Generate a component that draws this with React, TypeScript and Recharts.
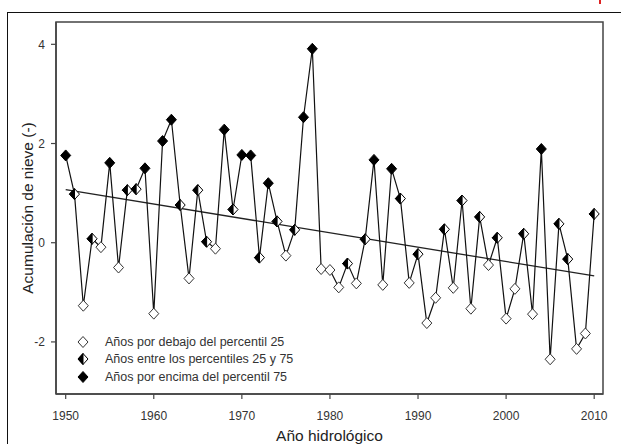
import React from 'react';
import { LineChart, Line, XAxis, YAxis, ReferenceLine, ReferenceArea, Label } from 'recharts';

const years = [
  1950, 1951, 1952, 1953, 1954, 1955, 1956, 1957, 1958, 1959,
  1960, 1961, 1962, 1963, 1964, 1965, 1966, 1967, 1968, 1969,
  1970, 1971, 1972, 1973, 1974, 1975, 1976, 1977, 1978, 1979,
  1980, 1981, 1982, 1983, 1984, 1985, 1986, 1987, 1988, 1989,
  1990, 1991, 1992, 1993, 1994, 1995, 1996, 1997, 1998, 1999,
  2000, 2001, 2002, 2003, 2004, 2005, 2006, 2007, 2008, 2009, 2010,
];

const values = [
  1.76, 0.98, -1.27, 0.08, -0.09, 1.61, -0.5, 1.06, 1.08, 1.5,
  -1.43, 2.05, 2.48, 0.76, -0.72, 1.06, 0.02, -0.12, 2.28, 0.67,
  1.77, 1.76, -0.3, 1.2, 0.43, -0.26, 0.26, 2.53, 3.91, -0.53,
  -0.55, -0.9, -0.42, -0.82, 0.07, 1.67, -0.85, 1.49, 0.89, -0.81,
  -0.23, -1.62, -1.11, 0.27, -0.91, 0.85, -1.33, 0.52, -0.45, 0.1,
  -1.53, -0.93, 0.18, -1.44, 1.89, -2.35, 0.38, -0.33, -2.14, -1.83, 0.58,
];

// b = below 25th percentile, m = between 25 and 75, a = above 75th
const classes = [
  'a', 'm', 'b', 'm', 'b', 'a', 'b', 'm', 'm', 'a',
  'b', 'a', 'a', 'm', 'b', 'm', 'm', 'b', 'a', 'm',
  'a', 'a', 'm', 'a', 'm', 'b', 'm', 'a', 'a', 'b',
  'b', 'b', 'm', 'b', 'm', 'a', 'b', 'a', 'm', 'b',
  'm', 'b', 'b', 'm', 'b', 'm', 'b', 'm', 'b', 'm',
  'b', 'b', 'm', 'b', 'a', 'b', 'm', 'm', 'b', 'b', 'm',
];

const legendLabels = [
  'Años por debajo del percentil 25',
  'Años entre los percentiles 25 y 75',
  'Años por encima del percentil 75',
];
const legendClasses = ['b', 'm', 'a'];

const trendStart = { x: 1950, y: 1.07 };
const trendEnd = { x: 2010, y: -0.67 };

const xTicks = [1950, 1960, 1970, 1980, 1990, 2000, 2010];
const yTicks = [-2, 0, 2, 4];
const xDomain = [1948.9, 2011];
const yDomain = [-3.05, 4.45];

const data = years.map((y, i) => ({ year: y, v: values[i], cls: classes[i] }));

const W = 5;
const H = 5.5;

function Diamond({ cx, cy, cls }: { cx: number; cy: number; cls: string }) {
  const pts = `${cx},${cy - H} ${cx + W},${cy} ${cx},${cy + H} ${cx - W},${cy}`;
  if (cls === 'a') {
    return <polygon points={pts} fill="#000" stroke="#000" strokeWidth={1} />;
  }
  if (cls === 'm') {
    const half = `${cx},${cy - H} ${cx},${cy + H} ${cx - W},${cy}`;
    return (
      <g>
        <polygon points={pts} fill="#fff" stroke="#000" strokeWidth={1} />
        <polygon points={half} fill="#000" stroke="#000" strokeWidth={1} />
      </g>
    );
  }
  return <polygon points={pts} fill="#fff" stroke="#333" strokeWidth={1} />;
}

const renderDot = (props: any) => {
  const { cx, cy, payload, index } = props;
  return (
    <g key={`d-${index}`}>
      <Diamond cx={cx} cy={cy} cls={payload.cls} />
    </g>
  );
};

const font = 'Arial, "Liberation Sans", sans-serif';
const tickStyle = { fontFamily: font, fontSize: 12, fill: '#333' };
const frame = '#444';

export default function App() {
  return (
    <div style={{ position: 'fixed', left: 0, top: 0, width: 621, height: 444, background: '#fff' }}>
      <div style={{ position: 'absolute', left: 7, top: 12, width: 614, height: 432, borderTop: '1.5px solid #111', borderLeft: '1.5px solid #111', boxSizing: 'border-box' }} />
      <div style={{ position: 'absolute', left: 599, top: 0, width: 2, height: 4, background: '#d22' }} />
      <LineChart width={621} height={444} data={data} margin={{ top: 22, right: 18, bottom: 0, left: 0 }} style={{ position: 'absolute', left: 0, top: 0 }}>
        <XAxis
          dataKey="year"
          type="number"
          domain={xDomain}
          ticks={xTicks}
          allowDataOverflow
          height={50}
          tickSize={5}
          tickMargin={12}
          tick={tickStyle}
          stroke={frame}
          strokeWidth={1.5}
          tickLine={{ stroke: frame, strokeWidth: 1.2 }}
        >
          <Label
            value="Año hidrológico"
            position="insideBottom"
            offset={3}
            style={{ fontFamily: font, fontSize: 15.5, fill: '#222' }}
          />
        </XAxis>
        <YAxis
          type="number"
          domain={yDomain}
          ticks={yTicks}
          allowDataOverflow
          width={56}
          tickSize={5}
          tickMargin={6}
          tick={tickStyle}
          stroke={frame}
          strokeWidth={1.5}
          tickLine={{ stroke: frame, strokeWidth: 1.2 }}
        >
          <Label
            value="Acumulación de nieve (-)"
            angle={-90}
            position="insideLeft"
            offset={27}
            style={{ fontFamily: font, fontSize: 15.5, fill: '#222', textAnchor: 'middle' }}
          />
        </YAxis>
        <ReferenceArea
          x1={xDomain[0]}
          x2={xDomain[1]}
          y1={yDomain[0]}
          y2={yDomain[1]}
          fill="none"
          fillOpacity={0}
          stroke={frame}
          strokeWidth={1.5}
          ifOverflow="visible"
        />
        <ReferenceLine
          segment={[trendStart, trendEnd]}
          stroke="#222"
          strokeWidth={1.3}
          ifOverflow="visible"
        />
        <Line
          dataKey="v"
          stroke="#111"
          strokeWidth={1.2}
          dot={renderDot}
          activeDot={false}
          isAnimationActive={false}
        />
      </LineChart>
      <div style={{ position: 'absolute', left: 75, top: 333, fontFamily: font, fontSize: 12.5, color: '#333' }}>
        {legendLabels.map((t, i) => (
          <div key={t} style={{ display: 'flex', alignItems: 'center', height: 17.5, whiteSpace: 'nowrap' }}>
            <svg width={16} height={16} style={{ marginRight: 14 }}>
              <Diamond cx={8} cy={8} cls={legendClasses[i]} />
            </svg>
            <span>{t}</span>
          </div>
        ))}
      </div>
    </div>
  );
}
